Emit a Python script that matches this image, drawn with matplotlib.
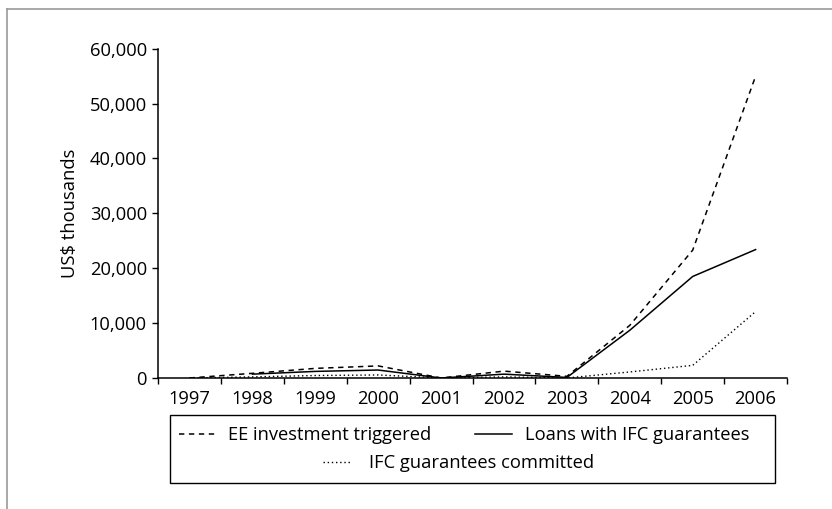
import numpy as np
import matplotlib
matplotlib.use("Agg")
import matplotlib.pyplot as plt
from matplotlib.lines import Line2D
from matplotlib.patches import Rectangle
from matplotlib.ticker import FixedLocator, FuncFormatter

plt.rcParams['font.family'] = ['Open Sans', 'DejaVu Sans']

# data (US$ thousands)
years = ['1997', '1998', '1999', '2000', '2001', '2002', '2003', '2004', '2005', '2006']
ee_investment = [0, 850, 1750, 2200, 0, 1250, 300, 9600, 23300, 55000]
loans_ifc = [np.nan, 700, 1200, 1450, 0, 700, 100, 8700, 18500, 23400]
ifc_committed = [0, 200, 450, 550, 0, 200, 0, 1100, 2300, 12100]

y_ticks = [0, 10000, 20000, 30000, 40000, 50000, 60000]

FS = 13.2

fig = plt.figure(figsize=(8.32, 5.09), dpi=100)
ax = fig.add_axes([0.190, 0.2574, 0.756, 0.6469])

x = np.arange(len(years))
l_ee, = ax.plot(x, ee_investment, color='black', lw=1.1, ls=(0, (3.5, 3)),
                label='EE investment triggered')
l_loans, = ax.plot(x, loans_ifc, color='black', lw=1.1, ls='-',
                   label='Loans with IFC guarantees')
l_comm, = ax.plot(x, ifc_committed, color='black', lw=1.0, ls=(0, (1, 2)),
                  label='IFC guarantees committed')

ax.set_xlim(-0.5, len(years) - 0.5)
ax.set_ylim(0, 60000)
ax.set_yticks(y_ticks)
ax.yaxis.set_major_formatter(FuncFormatter(lambda v, p: f'{int(v):,}'))
ax.set_ylabel('US$ thousands', fontsize=FS, labelpad=8)

# ticks between categories, labels at category centres
ax.xaxis.set_major_locator(FixedLocator(np.arange(-0.5, len(years), 1.0)))
ax.xaxis.set_minor_locator(FixedLocator(x))
ax.set_xticklabels([], minor=False)
ax.set_xticklabels(years, minor=True)
ax.tick_params(axis='x', which='major', length=4, width=1, direction='out')
ax.tick_params(axis='x', which='minor', length=0, pad=9, labelsize=FS)
ax.tick_params(axis='y', length=4, width=1, direction='out', pad=4, labelsize=FS)

for s in ['top', 'right']:
    ax.spines[s].set_visible(False)
for s in ['left', 'bottom']:
    ax.spines[s].set_linewidth(1.1)
ax.spines['bottom'].set_zorder(0)

# legend box with two rows
fig.add_artist(Rectangle((0.2043, 0.0511), 0.7272, 0.1336, transform=fig.transFigure,
                         fill=False, edgecolor='black', lw=1.0))
fig.legend(handles=[l_ee, l_loans], loc='center', ncol=2,
           bbox_to_anchor=(0.5577, 1 - 435 / 509), frameon=False,
           fontsize=FS, handlelength=2.0, handletextpad=0.7, columnspacing=2.4,
           borderpad=0, borderaxespad=0)
fig.legend(handles=[l_comm], loc='center',
           bbox_to_anchor=(0.5511, 1 - 463 / 509), frameon=False,
           fontsize=FS, handlelength=1.6, handletextpad=0.9,
           borderpad=0, borderaxespad=0)

# thin grey frame along top and left edge
fig.add_artist(Line2D([0.009, 1.0], [1 - 9 / 509, 1 - 9 / 509], transform=fig.transFigure,
                      color='#9a9a9a', lw=1.2))
fig.add_artist(Line2D([0.009, 0.009], [0.0, 1 - 9 / 509], transform=fig.transFigure,
                      color='#9a9a9a', lw=1.2))

fig.savefig('out.png', dpi=100)
